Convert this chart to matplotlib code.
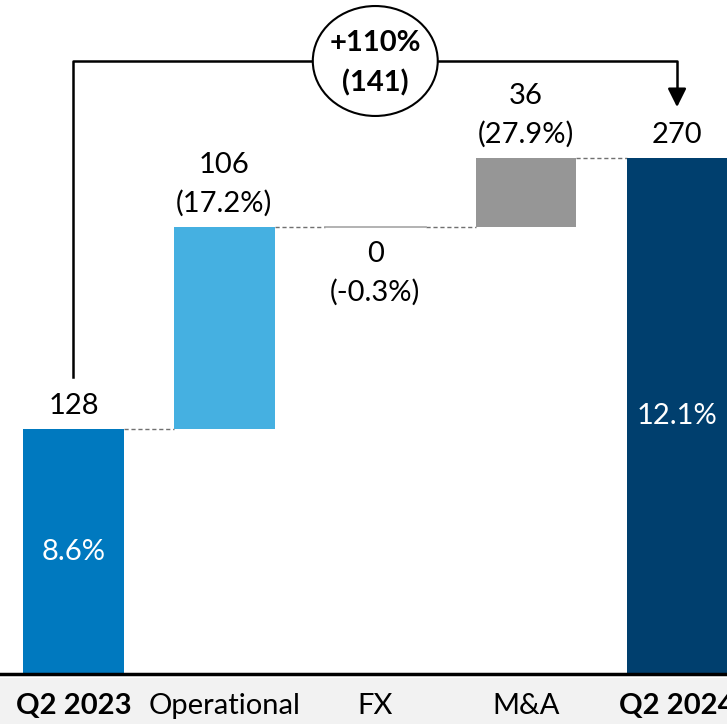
import matplotlib.pyplot as plt
from matplotlib.patches import Ellipse, Rectangle

# Datos del gráfico de cascada
categorias = ['Q2 2023', 'Operational', 'FX', 'M&A', 'Q2 2024']
valores = [128, 106, 0, 36, 270]
es_total = [True, False, False, False, True]
porcentajes = ['8.6%', '(17.2%)', '(-0.3%)', '(27.9%)', '12.1%']
variacion_total = ['+110%', '(141)']

colores = ['#0079bf', '#45b0e1', '#a6a6a6', '#969696', '#003f6e']

plt.rcParams['font.family'] = ['Lato', 'DejaVu Sans']

fig = plt.figure(figsize=(7.27, 7.24), dpi=100)
# Banda gris bajo el eje
fig.patches.append(Rectangle((0, 0), 1, 46 / 724, transform=fig.transFigure,
                             facecolor='#f2f2f2', edgecolor='none', zorder=-5))
ax = fig.add_axes([0, 50 / 724, 1, 674 / 724])
ax.patch.set_alpha(0)

# Calculamos las bases de cada barra
bases = []
acumulado = 0
for v, t in zip(valores, es_total):
    if t:
        bases.append(0)
        acumulado = v
    else:
        bases.append(acumulado)
        acumulado += v
tops = [b + v for b, v in zip(bases, valores)]

ancho = 0.666
x = list(range(len(categorias)))
for i in x:
    if valores[i] == 0:
        ax.plot([i - ancho / 2, i + ancho / 2], [bases[i], bases[i]],
                color=colores[i], lw=1.2, zorder=2)
    else:
        ax.bar(i, valores[i], bottom=bases[i], width=ancho,
               color=colores[i], zorder=2)

# Conectores punteados
for i in range(len(x) - 1):
    ax.plot([i + ancho / 2, i + 1 - ancho / 2], [tops[i], tops[i]],
            color='#707070', lw=1, ls=(0, (3, 2)), zorder=1)

fs = 21
for i in x:
    if es_total[i]:
        ax.annotate(str(valores[i]), (i, tops[i]), xytext=(0, 23),
                    textcoords='offset pixels', ha='center', va='center', fontsize=fs)
        ax.text(i, tops[i] / 2, porcentajes[i], ha='center', va='center',
                fontsize=fs, color='white')
    elif valores[i] != 0:
        ax.annotate(porcentajes[i], (i, tops[i]), xytext=(0, 23),
                    textcoords='offset pixels', ha='center', va='center', fontsize=fs)
        ax.annotate(str(valores[i]), (i, tops[i]), xytext=(0, 62),
                    textcoords='offset pixels', ha='center', va='center', fontsize=fs)
    else:
        ax.annotate(str(valores[i]), (i, tops[i]), xytext=(0, -27),
                    textcoords='offset pixels', ha='center', va='center', fontsize=fs)
        ax.annotate(porcentajes[i], (i, tops[i]), xytext=(0, -66),
                    textcoords='offset pixels', ha='center', va='center', fontsize=fs)

# Corchete de variación total
nivel = 320.6
ax.plot([0, 0, 4, 4], [155.3, nivel, nivel, 303], color='black', lw=1.8, zorder=3)
ax.annotate('', xy=(4, 296.5), xytext=(4, 305),
            arrowprops=dict(arrowstyle='-|>', color='black', lw=1.8,
                            mutation_scale=28, shrinkA=0, shrinkB=0))
ax.add_patch(Ellipse((2, nivel), 0.828, 57.5, facecolor='white',
                     edgecolor='black', lw=1.5, zorder=4))
ax.annotate(variacion_total[0], (2, nivel), xytext=(0, 18), textcoords='offset pixels',
            ha='center', va='center', fontsize=fs, fontweight='bold', zorder=5)
ax.annotate(variacion_total[1], (2, nivel), xytext=(0, -22), textcoords='offset pixels',
            ha='center', va='center', fontsize=fs, fontweight='bold', zorder=5)

ax.set_xlim(-0.487, 4.331)
ax.set_ylim(0, 352.5)
ax.set_xticks(x)
ax.set_xticklabels(categorias, fontsize=fs)
for lbl, t in zip(ax.get_xticklabels(), es_total):
    if t:
        lbl.set_fontweight('bold')
ax.tick_params(axis='x', length=0, pad=14)
ax.set_yticks([])
for s in ['top', 'left', 'right']:
    ax.spines[s].set_visible(False)
ax.spines['bottom'].set_linewidth(2.5)
ax.spines['bottom'].set_color('black')

fig.savefig('out.png', dpi=100)
